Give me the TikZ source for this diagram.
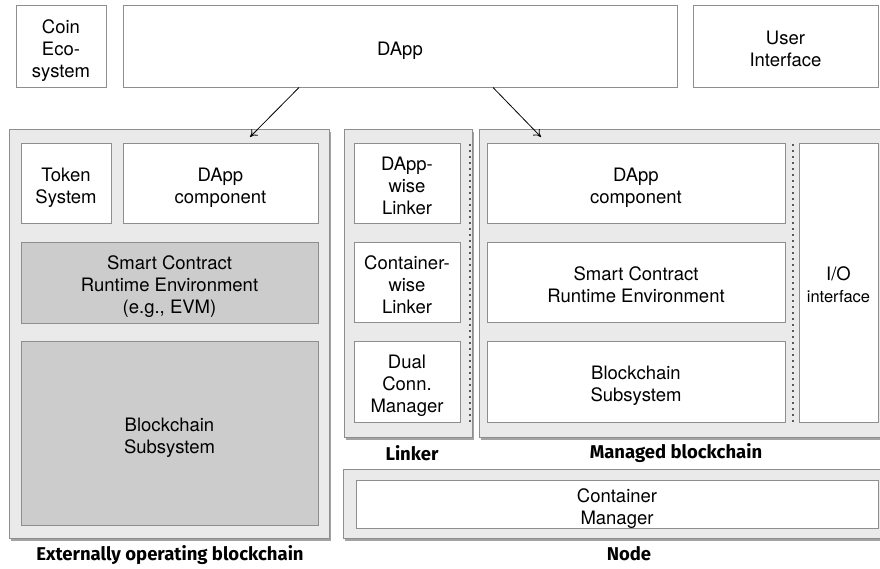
\documentclass[tikz,border=0pt]{standalone}
\usepackage{fontspec}
\setmainfont{TeX Gyre Heros}
\newfontfamily\capfont{Fira Sans}
\usetikzlibrary{arrows.meta,shadows}

\definecolor{panelgray}{HTML}{EAEAEA}
\definecolor{boxgray}{HTML}{CCCCCC}
\definecolor{edgegray}{HTML}{8E8E8E}

% centred lines, set a little low in their box
\newcommand{\boxlines}[1]{\raisebox{-5pt}[\height][\depth]{\begin{tabular}{@{}c@{}}#1\end{tabular}}}

\begin{document}
\begin{tikzpicture}[x=1pt, y=-1pt,
    box/.style={draw=edgegray, line width=1pt, fill=white, inner sep=0pt,
        font=\fontsize{18.5}{22}\selectfont},
    graybox/.style={box, fill=boxgray},
    panel/.style={draw=edgegray, line width=1pt, fill=panelgray, inner sep=0pt,
        drop shadow={shadow xshift=1.5pt, shadow yshift=-2.5pt, fill=black!60, opacity=0.6}},
    caption/.style={font=\capfont\bfseries\fontsize{18.5}{22}\selectfont},
    sep/.style={line width=1.6pt, draw=black!65, dash pattern=on 1.6pt off 4.4pt}]
        \useasboundingbox (0,0) rectangle (880,568);
        % top row
        \node [box, minimum width=90pt, minimum height=82pt] (coin) at (61,46) {\boxlines{Coin\\Eco-\\system}};
        \node [box, minimum width=554pt, minimum height=82pt] (dapp) at (400,46) {\boxlines{DApp}};
        \node [box, minimum width=185pt, minimum height=82pt] (ui) at (785.5,46) {\boxlines{User\\Interface}};
        % panels
        \node [panel, minimum width=320pt, minimum height=409pt] (ext) at (169,333.5) {};
        \node [panel, minimum width=128pt, minimum height=308pt] (linker) at (408,283) {};
        \node [panel, minimum width=410pt, minimum height=308pt] (managed) at (684,283) {};
        \node [panel, minimum width=545pt, minimum height=69pt] (node) at (615.5,503.5) {};
        % externally operating blockchain
        \node [box, minimum width=90pt, minimum height=80pt] (token) at (66,183) {\boxlines{Token\\System}};
        \node [box, minimum width=195pt, minimum height=80pt] (dappL) at (220.5,183) {\boxlines{DApp\\component}};
        \node [graybox, minimum width=297pt, minimum height=81pt] (screL) at (169.5,282.5) {\boxlines{Smart Contract\\Runtime Environment\\(e.g., EVM)}};
        \node [graybox, minimum width=297pt, minimum height=184pt] (bcL) at (169.5,433) {\boxlines{Blockchain\\Subsystem}};
        % linker
        \node [box, minimum width=106pt, minimum height=80pt] (dwl) at (407,183) {\boxlines{DApp-\\wise\\Linker}};
        \node [box, minimum width=106pt, minimum height=80pt] (cwl) at (407,282) {\boxlines{Container-\\wise\\Linker}};
        \node [box, minimum width=106pt, minimum height=81pt] (dcm) at (407,381.5) {\boxlines{Dual\\Conn.\\Manager}};
        \draw [sep] (470,144) -- (470,422);
        % managed blockchain
        \node [box, minimum width=298pt, minimum height=80pt] (dappR) at (636,183) {\boxlines{DApp\\component}};
        \node [box, minimum width=298pt, minimum height=80pt] (screR) at (636,282) {\boxlines{Smart Contract\\Runtime Environment}};
        \node [box, minimum width=298pt, minimum height=81pt] (bcR) at (636,381.5) {\boxlines{Blockchain\\Subsystem}};
        \node [box, minimum width=79pt, minimum height=279pt] (io) at (838.5,282.5) {\boxlines{I/O\\{\fontsize{16.5}{21}\selectfont interface}}};
        \draw [sep] (793,144) -- (793,422);
        % node
        \node [box, minimum width=522pt, minimum height=48pt] (cm) at (617,504) {\boxlines{Container\\Manager}};
        % captions
        \node [caption] (extcap) at (170,555) {Externally operating blockchain};
        \node [caption] (linkcap) at (412,453) {Linker};
        \node [caption] (mancap) at (676,453) {Managed blockchain};
        \node [caption] (nodecap) at (629,554) {Node};
        % arrows
        \coordinate (inL) at (250,137);
        \coordinate (inR) at (541,137);
        \draw [-{To[length=7pt,width=9pt]}, line width=0.8pt] ([xshift=-101pt]dapp.south) -- (inL);
        \draw [-{To[length=7pt,width=9pt]}, line width=0.8pt] ([xshift=93pt]dapp.south) -- (inR);
\end{tikzpicture}
\end{document}
